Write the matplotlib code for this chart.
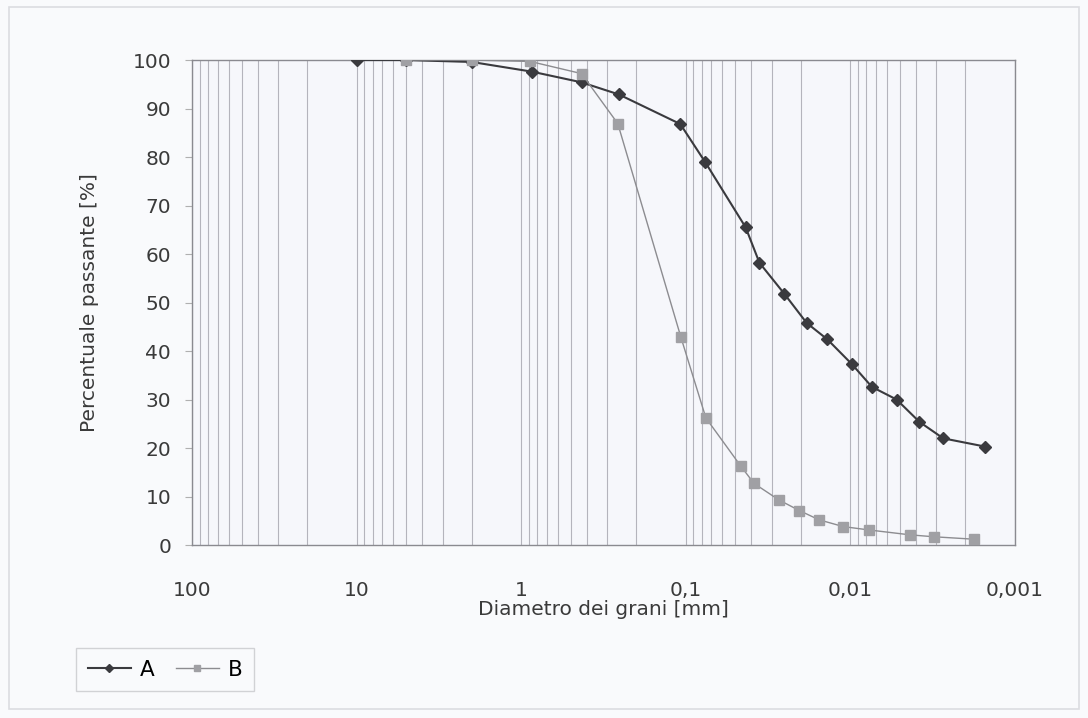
import matplotlib
matplotlib.use("Agg")
import matplotlib.pyplot as plt
from matplotlib.ticker import FixedLocator, LogLocator, NullFormatter, FuncFormatter
from matplotlib.patches import Rectangle

# Data (diameter in mm, percent passing)
diam_A = [10, 5, 2, 0.86, 0.43, 0.255, 0.108, 0.0764, 0.0433, 0.0357, 0.0252,
          0.01845, 0.0138, 0.0098, 0.0074, 0.00524, 0.00381, 0.00273, 0.00152]
pass_A = [100, 100, 99.6, 97.6, 95.4, 92.9, 86.8, 79.0, 65.5, 58.2, 51.8,
          45.8, 42.4, 37.3, 32.6, 30.0, 25.4, 22.0, 20.3]

diam_B = [5, 2, 0.88, 0.43, 0.259, 0.107, 0.0755, 0.0464, 0.0385, 0.0272,
          0.0204, 0.0155, 0.01104, 0.00767, 0.00434, 0.0031, 0.00177]
pass_B = [100, 100, 99.7, 97.2, 86.9, 42.8, 26.2, 16.3, 12.7, 9.3,
          7.1, 5.2, 3.8, 3.1, 2.1, 1.7, 1.2]

x_ticks = [100, 10, 1, 0.1, 0.01, 0.001]
x_tick_labels = ["100", "10", "1", "0,1", "0,01", "0,001"]
y_ticks = [0, 10, 20, 30, 40, 50, 60, 70, 80, 90, 100]

plt.rcParams['font.family'] = ['DejaVu Sans']

fig = plt.figure(figsize=(10.88, 7.18), dpi=100)
fig.patch.set_facecolor('#f9fafc')
fig.add_artist(Rectangle((0.008, 0.012), 0.984, 0.978, transform=fig.transFigure,
                         fill=False, edgecolor='#dcdde1', linewidth=1.2))

ax = fig.add_axes([0.1765, 0.2409, 0.7564, 0.6755])
ax.set_facecolor('#f6f7fb')

ax.set_xscale('log')
ax.set_xlim(100, 0.001)
ax.set_ylim(0, 100)

ax.xaxis.set_major_locator(FixedLocator(x_ticks))
ax.xaxis.set_major_formatter(FuncFormatter(
    lambda v, p: dict(zip(x_ticks, x_tick_labels)).get(v, "")))
ax.xaxis.set_minor_locator(LogLocator(base=10, subs=range(2, 10), numticks=20))
ax.xaxis.set_minor_formatter(NullFormatter())
ax.grid(True, which='both', axis='x', color='#b4b4bc', linewidth=0.8)
ax.set_axisbelow(True)

ax.set_yticks(y_ticks)
ax.tick_params(axis='y', direction='out', length=5, color='#b0b0b0', labelsize=14.5,
               labelcolor='#3a3a3a', pad=10)
ax.tick_params(axis='x', which='both', length=0, labelsize=14.5, labelcolor='#3a3a3a', pad=26)

for s in ax.spines.values():
    s.set_color('#8a8a90')
    s.set_linewidth(1.0)

ax.plot(diam_A, pass_A, color='#3a3a3e', linewidth=1.5, marker='D', markersize=6.5,
        markerfacecolor='#3a3a3e', markeredgecolor='#3a3a3e', label='A', zorder=3)
ax.plot(diam_B, pass_B, color='#8c8c90', linewidth=1.0, marker='s', markersize=7,
        markerfacecolor='#a0a0a4', markeredgecolor='#a0a0a4', label='B', zorder=4)

ax.set_xlabel('Diametro dei grani [mm]', fontsize=14.5, color='#3a3a3a', labelpad=0)
ax.set_ylabel('Percentuale passante [%]', fontsize=14.5, color='#3a3a3a', labelpad=24)

leg = fig.legend(handles=ax.get_lines(), labels=['A', 'B'], loc='lower left',
                 bbox_to_anchor=(0.060, 0.022), ncol=2, frameon=True, fancybox=False,
                 fontsize=15.5, handlelength=2.0, handletextpad=0.4, columnspacing=1.0,
                 borderpad=0.55, markerscale=0.7)
leg.get_frame().set_edgecolor('#c8c8cc')
leg.get_frame().set_facecolor('#f9fafc')
leg.get_frame().set_linewidth(1.0)

fig.savefig('out.png', dpi=100, facecolor=fig.get_facecolor())
